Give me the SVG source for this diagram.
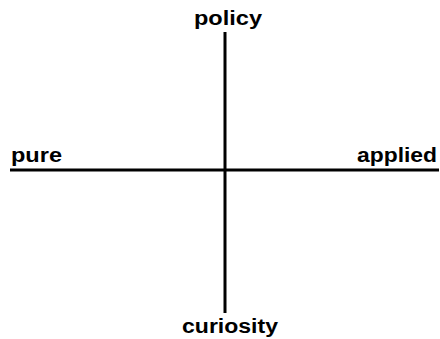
<svg xmlns="http://www.w3.org/2000/svg" width="440" height="339" viewBox="0 0 440 339">
  <style>
    .axis { stroke: #000; stroke-width: 3; fill: none; }
    .label { font-family: "Liberation Sans", Arial, sans-serif; font-weight: bold; font-size: 20px; fill: #000; }
  </style>
  <rect width="440" height="339" fill="#fff"/>
  <g id="connectors">
    <line class="axis" x1="10" y1="170" x2="439" y2="170"/>
    <line class="axis" x1="225" y1="32" x2="225" y2="313"/>
  </g>
  <g id="policy"><text class="label" x="194" y="25" textLength="68" lengthAdjust="spacingAndGlyphs">policy</text></g>
  <g id="pure"><text class="label" x="11" y="162" textLength="51" lengthAdjust="spacingAndGlyphs">pure</text></g>
  <g id="applied"><text class="label" x="357" y="162" textLength="80" lengthAdjust="spacingAndGlyphs">applied</text></g>
  <g id="curiosity"><text class="label" x="182" y="333" textLength="96" lengthAdjust="spacingAndGlyphs">curiosity</text></g>
</svg>
